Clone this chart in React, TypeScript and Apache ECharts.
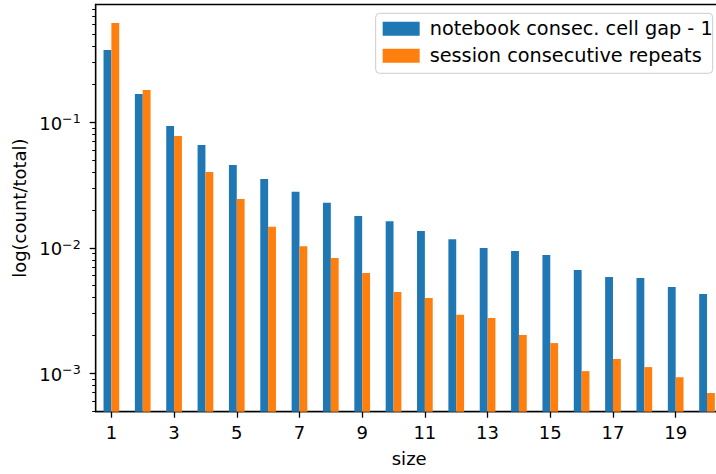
import React, { useEffect, useRef } from 'react';
import * as echarts from 'echarts';

const sizes = ['1', '2', '3', '4', '5', '6', '7', '8', '9', '10', '11', '12', '13', '14', '15', '16', '17', '18', '19', '20'];
const notebookGap = [0.377, 0.168, 0.0934, 0.0659, 0.0457, 0.0353, 0.0279, 0.0228, 0.0179, 0.0163, 0.0136, 0.0117, 0.00995, 0.00943, 0.00877, 0.00666, 0.00585, 0.00574, 0.00486, 0.00428];
const sessionRepeats = [0.618, 0.181, 0.0778, 0.0402, 0.0245, 0.0147, 0.0103, 0.0083, 0.0063, 0.00445, 0.00398, 0.00292, 0.00276, 0.00202, 0.00174, 0.00104, 0.0013, 0.00112, 0.00093, 0.000696];
const yMin = 4.94e-4;
const yMax = 0.868;
const majorTicks = [1e-3, 1e-2, 1e-1];
const minorTicks = [
  5e-4, 6e-4, 7e-4, 8e-4, 9e-4,
  2e-3, 3e-3, 4e-3, 5e-3, 6e-3, 7e-3, 8e-3, 9e-3,
  2e-2, 3e-2, 4e-2, 5e-2, 6e-2, 7e-2, 8e-2, 9e-2,
  2e-1, 3e-1, 4e-1, 5e-1, 6e-1, 7e-1, 8e-1,
];

const FONT = 'DejaVu Sans';
const lg = (v: number) => Math.log10(v);

export default function App() {
  const ref = useRef<HTMLDivElement>(null);
  useEffect(() => {
    if (!ref.current) return;
    const chart = echarts.init(ref.current, null, { renderer: 'svg' });
    const lmin = lg(yMin);
    const lmax = lg(yMax);
    const axisLine = { show: true, lineStyle: { color: '#000', width: 1.3 } };
    chart.setOption({
      animation: false,
      backgroundColor: '#fff',
      textStyle: { fontFamily: FONT },
      grid: {
        left: 95.7, top: 4.5, width: 627, height: 407.2,
        outerBoundsMode: 'none',
        containLabel: false,
        show: true, borderColor: '#000', borderWidth: 1.3, backgroundColor: 'transparent',
      },
      legend: {
        orient: 'vertical',
        right: 3.3,
        top: 13.3,
        icon: 'rect',
        itemWidth: 37,
        itemHeight: 14,
        itemGap: 6,
        padding: [5, 0, 7, 7],
        backgroundColor: 'rgba(255,255,255,0.8)',
        borderColor: '#cccccc',
        borderWidth: 1,
        borderRadius: 4,
        textStyle: { fontFamily: FONT, fontSize: 19.3, color: '#000', lineHeight: 21, padding: [0, 0, 0, 5] },
        data: ['notebook consec. cell gap - 1', 'session consecutive repeats'],
      },
      xAxis: {
        type: 'category',
        data: sizes,
        name: 'size',
        nameLocation: 'middle',
        nameGap: 38,
        nameTextStyle: { fontFamily: FONT, fontSize: 18, color: '#000' },
        axisLine,
        axisTick: { show: true, alignWithLabel: true, interval: 1, length: 6, lineStyle: { color: '#000', width: 1.3 } },
        axisLabel: { interval: 1, margin: 12, fontFamily: FONT, fontSize: 18, color: '#000' },
        splitLine: { show: false },
      },
      yAxis: [
        {
          type: 'value',
          min: lmin,
          max: lmax,
          startValue: lmin,
          name: 'log(count/total)',
          nameLocation: 'middle',
          nameGap: 67,
          nameTextStyle: { fontFamily: FONT, fontSize: 18, color: '#000' },
          axisLine,
          axisTick: { show: true, length: 6, customValues: majorTicks.map(lg), lineStyle: { color: '#000', width: 1.3 } },
          axisLabel: {
            margin: 15,
            customValues: majorTicks.map(lg),
            formatter: (v: number) => `{b|10}{s|\u2212${Math.round(-v)}}`,
            rich: {
              b: { fontFamily: FONT, fontSize: 18, lineHeight: 20, color: '#000', verticalAlign: 'bottom' },
              s: { fontFamily: FONT, fontSize: 12.6, lineHeight: 13, color: '#000', verticalAlign: 'top' },
            },
          },
          splitLine: { show: false },
        },
        {
          type: 'value',
          min: lmin,
          max: lmax,
          position: 'left',
          axisLine: { show: false },
          axisTick: { show: true, length: 3.5, customValues: minorTicks.map(lg), lineStyle: { color: '#000', width: 1 } },
          axisLabel: { show: false },
          splitLine: { show: false },
        },
      ],
      series: [
        {
          name: 'notebook consec. cell gap - 1',
          type: 'bar',
          data: notebookGap.map(lg),
          barWidth: '25%',
          barGap: '0%',
          itemStyle: { color: '#1f77b4' },
        },
        {
          name: 'session consecutive repeats',
          type: 'bar',
          data: sessionRepeats.map(lg),
          barWidth: '25%',
          barGap: '0%',
          itemStyle: { color: '#ff7f0e' },
        },
      ],
    });
    return () => chart.dispose();
  }, []);
  return <div ref={ref} style={{ position: 'fixed', left: 0, top: 0, width: 716, height: 474 }} />;
}
